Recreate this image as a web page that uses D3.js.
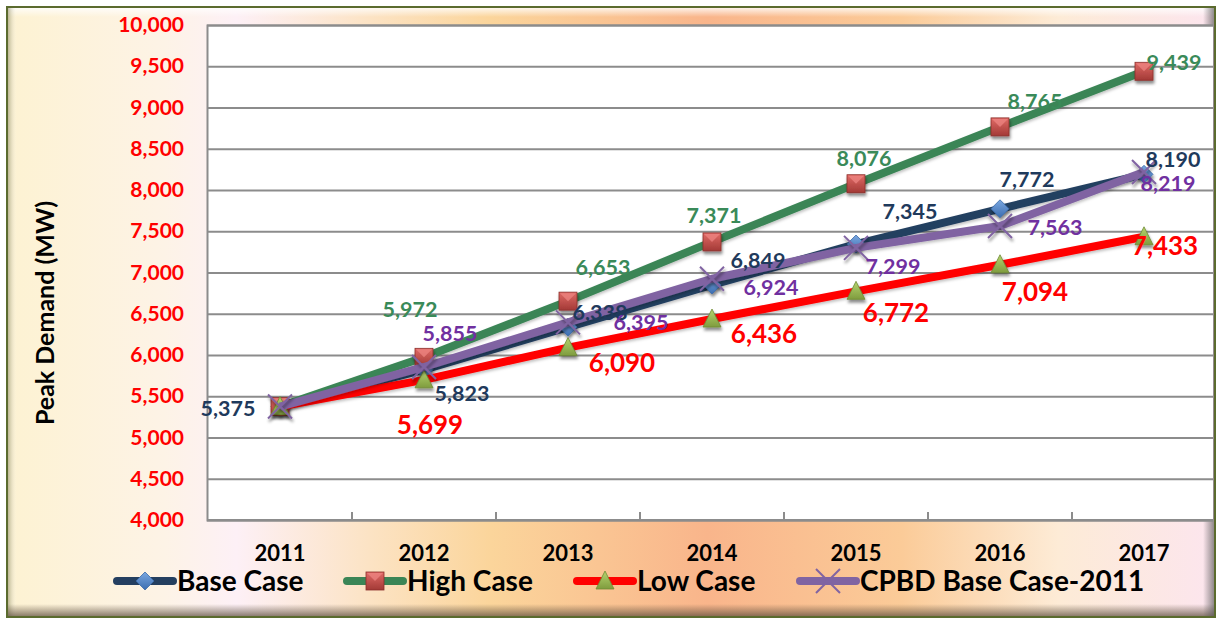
<!DOCTYPE html>
<html>
<head>
<meta charset="utf-8">
<script src="https://cdn.jsdelivr.net/npm/d3@7"></script>
<style>
  html, body { margin: 0; padding: 0; background: #ffffff; }
  svg { display: block; font-family: Lato, "Open Sans", sans-serif; }
</style>
</head>
<body>
<div id="chart"></div>
<script>
// chart values
const years = ["2011", "2012", "2013", "2014", "2015", "2016", "2017"];
const baseCase = [5375, 5823, 6338, 6849, 7345, 7772, 8190];
const highCase = [5375, 5972, 6653, 7371, 8076, 8765, 9439];
const lowCase  = [5375, 5699, 6090, 6436, 6772, 7094, 7433];
const cpbdCase = [5375, 5855, 6395, 6924, 7299, 7563, 8219];
const yTicks = [4000, 4500, 5000, 5500, 6000, 6500, 7000, 7500, 8000, 8500, 9000, 9500, 10000];
const seriesNames = ["Base Case", "High Case", "Low Case", "CPBD Base Case-2011"];

// label placement (dx, dy from the point), hand tuned like the excel original
const baseLabelOff = [[-52, 1], [38, 23], [32, -15], [46, -25], [54, -33], [27, -30], [29, -15]];
const highLabelOff = [null, [-14, -48], [35, -34], [2, -27], [8, -26], [35, -26], [30, -9]];
const lowLabelOff  = [null, [6, 44], [54, 14], [52, 14], [40, 21], [35, 26], [21, 8]];
const cpbdLabelOff = [null, [26, -34], [73, 0], [59, 8], [37, 18], [55, 1], [24, 11]];

const W = 1217, H = 619;
const PLOT = {left: 207, top: 25, right: 1213, bottom: 520};

const svg = d3.select("#chart").append("svg")
  .attr("width", W).attr("height", H);

const defs = svg.append("defs");

// background gradient of the chart area
const bg = defs.append("linearGradient").attr("id", "bgGrad")
  .attr("x1", 0).attr("x2", 1).attr("y1", 0).attr("y2", 0);
[[0, "#fdf2d2"], [0.13, "#fdf3e6"], [0.19, "#fdf0f6"], [0.3, "#fce3c4"], [0.4, "#fbd59b"],
 [0.58, "#f9b58b"], [0.74, "#fbcb98"], [0.87, "#fdebd6"], [1, "#fce5ee"]]
  .forEach(s => bg.append("stop").attr("offset", s[0]).attr("stop-color", s[1]));

const topBev = defs.append("linearGradient").attr("id", "topBev")
  .attr("x1", 0).attr("x2", 0).attr("y1", 0).attr("y2", 1);
topBev.append("stop").attr("offset", 0).attr("stop-color", "#ffffff").attr("stop-opacity", 0.9);
topBev.append("stop").attr("offset", 1).attr("stop-color", "#ffffff").attr("stop-opacity", 0);

const botBev = defs.append("linearGradient").attr("id", "botBev")
  .attr("x1", 0).attr("x2", 0).attr("y1", 0).attr("y2", 1);
botBev.append("stop").attr("offset", 0).attr("stop-color", "#5a4a3a").attr("stop-opacity", 0);
botBev.append("stop").attr("offset", 1).attr("stop-color", "#5a4a3a").attr("stop-opacity", 0.75);

const leftBev = defs.append("linearGradient").attr("id", "leftBev")
  .attr("x1", 0).attr("x2", 1).attr("y1", 0).attr("y2", 0);
leftBev.append("stop").attr("offset", 0).attr("stop-color", "#6b6a3a").attr("stop-opacity", 0.55);
leftBev.append("stop").attr("offset", 1).attr("stop-color", "#ffffff").attr("stop-opacity", 0);

const rightBev = defs.append("linearGradient").attr("id", "rightBev")
  .attr("x1", 0).attr("x2", 1).attr("y1", 0).attr("y2", 0);
rightBev.append("stop").attr("offset", 0).attr("stop-color", "#555555").attr("stop-opacity", 0);
rightBev.append("stop").attr("offset", 1).attr("stop-color", "#555555").attr("stop-opacity", 0.7);

const shadow = defs.append("filter").attr("id", "shadow")
  .attr("x", "-50%").attr("y", "-50%").attr("width", "200%").attr("height", "200%");
shadow.append("feDropShadow").attr("dx", 1).attr("dy", 3).attr("stdDeviation", 1.6)
  .attr("flood-color", "#000").attr("flood-opacity", 0.45);

const lineShadow = defs.append("filter").attr("id", "lineShadow")
  .attr("x", "-5%").attr("y", "-20%").attr("width", "110%").attr("height", "140%");
lineShadow.append("feDropShadow").attr("dx", 0).attr("dy", 2).attr("stdDeviation", 1.5)
  .attr("flood-color", "#000").attr("flood-opacity", 0.25);

const sqGrad = defs.append("linearGradient").attr("id", "sqGrad")
  .attr("x1", 0).attr("x2", 0).attr("y1", 0).attr("y2", 1);
sqGrad.append("stop").attr("offset", 0).attr("stop-color", "#e06a66");
sqGrad.append("stop").attr("offset", 1).attr("stop-color", "#a33a36");

const diaGrad = defs.append("linearGradient").attr("id", "diaGrad")
  .attr("x1", 0).attr("x2", 0).attr("y1", 0).attr("y2", 1);
diaGrad.append("stop").attr("offset", 0).attr("stop-color", "#7aa7e0");
diaGrad.append("stop").attr("offset", 1).attr("stop-color", "#3b6db0");

const triGrad = defs.append("linearGradient").attr("id", "triGrad")
  .attr("x1", 0).attr("x2", 0).attr("y1", 0).attr("y2", 1);
triGrad.append("stop").attr("offset", 0).attr("stop-color", "#b5d46e");
triGrad.append("stop").attr("offset", 1).attr("stop-color", "#7f9c3e");

// frame
svg.append("rect").attr("x", 7).attr("y", 7).attr("width", 1208).attr("height", 610)
  .attr("fill", "url(#bgGrad)");
svg.append("rect").attr("x", 7).attr("y", 7).attr("width", 1208).attr("height", 10)
  .attr("fill", "url(#topBev)");
svg.append("rect").attr("x", 7).attr("y", 7).attr("width", 10).attr("height", 610)
  .attr("fill", "url(#leftBev)");
svg.append("rect").attr("x", 7).attr("y", 604).attr("width", 1208).attr("height", 13)
  .attr("fill", "url(#botBev)");
svg.append("rect").attr("x", 1203).attr("y", 7).attr("width", 12).attr("height", 610)
  .attr("fill", "url(#rightBev)");

// scales
const x = d3.scaleBand().domain(years).range([PLOT.left + 1, PLOT.left + 1 + 144 * 7]);
const y = d3.scaleLinear().domain([4000, 10000]).range([PLOT.bottom, PLOT.top]);
const cx = d => x(d) + x.bandwidth() / 2;

// plot area
svg.append("rect").attr("x", PLOT.left).attr("y", PLOT.top)
  .attr("width", PLOT.right - PLOT.left).attr("height", PLOT.bottom - PLOT.top)
  .attr("fill", "#ffffff");

const yAxisG = svg.append("g").attr("transform", `translate(${PLOT.left},0)`)
  .call(d3.axisLeft(y).tickValues(yTicks).tickSize(-(PLOT.right - PLOT.left))
    .tickFormat(d3.format(",")).tickPadding(23));
yAxisG.select(".domain").attr("stroke", "#8c8c8c").attr("stroke-width", 2);
yAxisG.selectAll(".tick line").attr("stroke", "#8c8c8c").attr("stroke-width", 2);
yAxisG.selectAll(".tick text").attr("fill", "#ff0000").attr("font-size", 21)
  .attr("font-weight", "bold").attr("font-family", "Lato");

const xAxisG = svg.append("g").attr("transform", `translate(0,${PLOT.bottom})`)
  .call(d3.axisBottom(x).tickSize(0).tickPadding(25));
xAxisG.select(".domain").remove();
xAxisG.selectAll(".tick text").attr("fill", "#000").attr("font-size", 22)
  .attr("font-weight", "bold").attr("font-family", "Lato");
svg.append("line").attr("x1", PLOT.left).attr("x2", PLOT.right)
  .attr("y1", PLOT.bottom).attr("y2", PLOT.bottom)
  .attr("stroke", "#8c8c8c").attr("stroke-width", 2);
// inner tick marks between categories
svg.append("g").selectAll("line").data(years.slice(1)).join("line")
  .attr("x1", d => x(d)).attr("x2", d => x(d))
  .attr("y1", PLOT.bottom).attr("y2", PLOT.bottom - 8)
  .attr("stroke", "#8c8c8c").attr("stroke-width", 2);

// y title
svg.append("text")
  .attr("transform", `translate(54,313) rotate(-90)`)
  .attr("text-anchor", "middle")
  .attr("font-size", 25).attr("font-weight", "bold").attr("fill", "#000")
  .text("Peak Demand (MW)");

// marker painters
const markers = {
  diamond(g) {
    g.append("path").attr("d", "M0,-9 L9,0 L0,9 L-9,0 Z")
      .attr("fill", "url(#diaGrad)").attr("stroke", "#3a6aa8").attr("stroke-width", 0.8);
  },
  square(g) {
    g.append("rect").attr("x", -9).attr("y", -9).attr("width", 18).attr("height", 18)
      .attr("fill", "url(#sqGrad)").attr("stroke", "#8c2f2c").attr("stroke-width", 0.8);
    g.append("path").attr("d", "M-8,-8 L8,-8 L0,0 Z").attr("fill", "#f08884").attr("opacity", 0.7);
  },
  triangle(g) {
    g.append("path").attr("d", "M0,-10 L9,8 L-9,8 Z")
      .attr("fill", "url(#triGrad)").attr("stroke", "#6f8a35").attr("stroke-width", 0.8);
  },
  cross(g) {
    g.append("path").attr("d", "M-12,-12 L12,12 M12,-12 L-12,12")
      .attr("stroke", "#8064a2").attr("stroke-width", 2).attr("fill", "none");
  }
};

const series = [
  {name: seriesNames[0], values: baseCase, color: "#243f60", text: "#1f3a5c", marker: "diamond", size: 21.5, off: baseLabelOff},
  {name: seriesNames[1], values: highCase, color: "#3b8556", text: "#3a8a59", marker: "square", size: 21.5, off: highLabelOff},
  {name: seriesNames[2], values: lowCase, color: "#ff0000", text: "#ff0000", marker: "triangle", size: 26, off: lowLabelOff},
  {name: seriesNames[3], values: cpbdCase, color: "#8064a2", text: "#7030a0", marker: "cross", size: 21.5, off: cpbdLabelOff}
];

const line = d3.line().x((d, i) => cx(years[i])).y(d => y(d));

series.forEach(s => {
  const g = svg.append("g");
  g.append("path").datum(s.values).attr("d", line)
    .attr("fill", "none").attr("stroke", s.color).attr("stroke-width", 8)
    .attr("stroke-linejoin", "round").attr("filter", "url(#lineShadow)");
  g.selectAll("g.mk").data(s.values).join("g").attr("class", "mk")
    .attr("transform", (d, i) => `translate(${cx(years[i])},${y(d)})`)
    .attr("filter", "url(#shadow)")
    .each(function() { markers[s.marker](d3.select(this)); });
});

// data labels on top
series.forEach(s => {
  svg.append("g").selectAll("text").data(s.values.map((v, i) => ({v, i})).filter(d => s.off[d.i]))
    .join("text")
    .attr("x", d => cx(years[d.i]) + s.off[d.i][0])
    .attr("y", d => y(d.v) + s.off[d.i][1])
    .attr("text-anchor", "middle").attr("dominant-baseline", "central")
    .attr("font-size", s.size).attr("font-weight", "bold").attr("fill", s.text)
    .text(d => d3.format(",")(d.v));
});

// legend
const legendItems = [
  {s: series[0], x: 117, tx: 177},
  {s: series[1], x: 347, tx: 407},
  {s: series[2], x: 577, tx: 637},
  {s: series[3], x: 800, tx: 860}
];
const lg = svg.append("g");
legendItems.forEach(it => {
  lg.append("line").attr("x1", it.x).attr("x2", it.x + 56).attr("y1", 581).attr("y2", 581)
    .attr("stroke", it.s.color).attr("stroke-width", 8).attr("stroke-linecap", "round");
  const m = lg.append("g").attr("transform", `translate(${it.x + 28},581)`);
  markers[it.s.marker](m);
  lg.append("text").attr("x", it.tx).attr("y", 591)
    .attr("font-size", 28).attr("font-weight", "bold").attr("fill", "#000")
    .text(it.s.name);
});

// outer frame border
svg.append("rect").attr("x", 7).attr("y", 7).attr("width", 1208).attr("height", 610)
  .attr("fill", "none").attr("stroke", "#5b6b2e").attr("stroke-width", 2);
</script>
</body>
</html>
